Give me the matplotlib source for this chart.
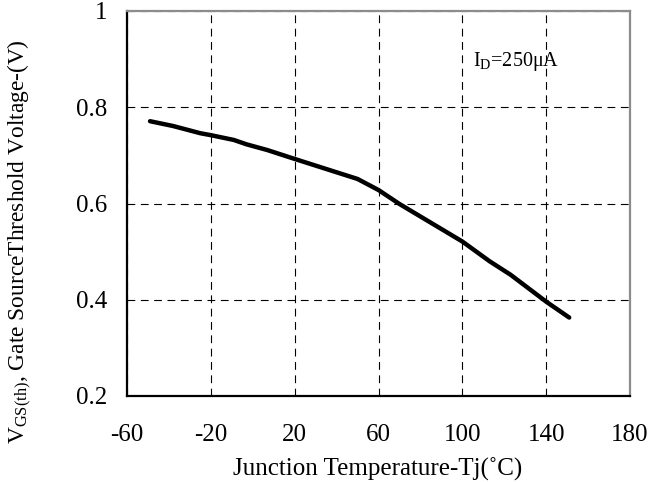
import matplotlib
matplotlib.use("Agg")
import matplotlib.pyplot as plt

plt.rcParams["font.family"] = ["Liberation Serif", "DejaVu Serif"]
plt.rcParams["mathtext.fontset"] = "custom"
plt.rcParams["mathtext.rm"] = "Liberation Serif"
plt.rcParams["axes.unicode_minus"] = False

# junction temperature (C) and threshold voltage (V)
temp = [-49, -38, -25, -20, -9, -3, 7, 19, 37, 50, 60, 70, 100, 113, 123, 140, 151]
vth = [0.771, 0.761, 0.746, 0.742, 0.732, 0.723, 0.711, 0.694, 0.669, 0.651,
       0.628, 0.599, 0.521, 0.480, 0.452, 0.396, 0.363]

x_ticks = [-60, -20, 20, 60, 100, 140, 180]
y_ticks = [0.2, 0.4, 0.6, 0.8, 1.0]
y_tick_labels = ["0.2", "0.4", "0.6", "0.8", "1"]

fig = plt.figure(figsize=(6.59, 4.82), dpi=100)
ax = fig.add_axes([127 / 659, 1 - 396 / 482, 503 / 659, 385 / 482])

ax.plot(temp, vth, color="black", lw=3.2, solid_capstyle="round")

ax.set_xlim(-60, 180)
ax.set_ylim(0.2, 1.0)
ax.set_xticks(x_ticks)
ax.set_yticks(y_ticks)
ax.set_yticklabels(y_tick_labels)
ax.grid(True, color="black", lw=0.8, linestyle=(0, (7, 5)))
ax.tick_params(length=0, labelsize=18)
ax.tick_params(axis="y", pad=14)
ax.tick_params(axis="x", pad=20)

for s in ["top", "right"]:
    ax.spines[s].set_color("#8c8c8c")
    ax.spines[s].set_linewidth(1.6)
for s in ["left", "bottom"]:
    ax.spines[s].set_color("black")
    ax.spines[s].set_linewidth(1.6)

ax.text(105, 0.896, r"I$_{\mathregular{D}}$=250μA", fontsize=14.5, va="center", ha="left")

fig.text(378 / 659, 1 - 469 / 482, "Junction Temperature-Tj(˚C)", fontsize=18,
         ha="center", va="center")
fig.text(20 / 659, 1 - 242 / 482, r"V$_{\mathregular{GS(th)}}$, Gate SourceThreshold Voltage-(V)",
         rotation=90, fontsize=16.8, ha="center", va="center")

fig.savefig("out.png", dpi=100)
